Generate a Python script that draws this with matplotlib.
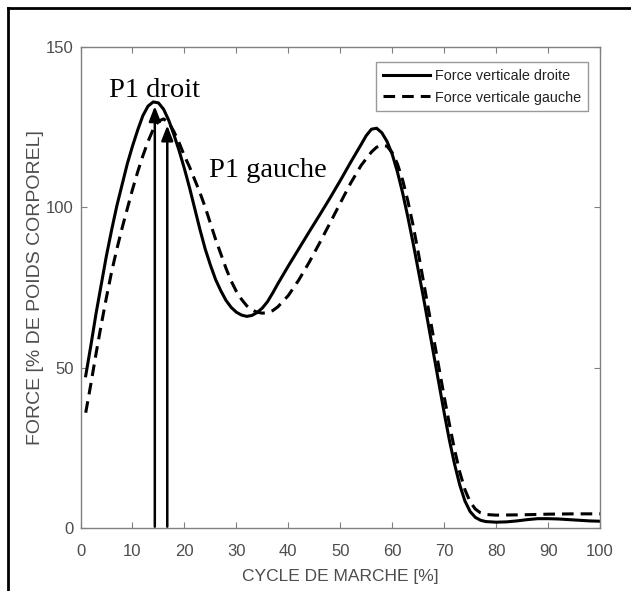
import numpy as np
import matplotlib
matplotlib.use('Agg')
from matplotlib import pyplot as plt
from matplotlib.lines import Line2D

# gait cycle [%] and vertical force [% body weight]
x_droite = [1, 2, 3, 4, 5, 6, 7, 8, 9, 10, 11, 12, 13, 14, 15, 16, 17, 18, 19, 20,
            21, 22, 23, 24, 25, 26, 27, 28, 29, 30, 31, 32, 33, 34, 35, 36, 37, 38, 40, 42,
            44, 46, 48, 50, 52, 54, 55, 56, 57, 58, 59, 60, 61, 62, 63, 64, 65, 66, 67, 68,
            69, 70, 71, 72, 73, 74, 75, 76, 77, 78, 80, 82, 84, 86, 88, 90, 92, 94, 96, 98, 100]
f_droite = [47.5, 57, 67, 76, 85, 93, 100.5, 107, 113.5, 119, 124, 128.5, 131.5, 132.8, 132.5, 130.5, 127, 122.5, 117.5, 112,
            106, 99.5, 93, 87, 82, 77.5, 74, 71, 68.8, 67.3, 66.4, 66, 66.3, 67.2, 68.6, 70.6, 73.3, 76.2, 81.7, 87.0,
            92.3, 97.5, 102.8, 108.3, 114, 119.5, 122.3, 124.3, 124.6, 123.2, 120.5, 116.5, 111, 104.5, 97, 89, 80.5, 72, 63, 54,
            45, 36, 27.5, 20, 13.5, 8.5, 5.2, 3.4, 2.5, 2.1, 1.9, 2.0, 2.3, 2.7, 3.0, 3.0, 2.9, 2.7, 2.5, 2.3, 2.2]

x_gauche = [1, 2, 3, 4, 5, 6, 7, 8, 9, 10, 11, 12, 13, 14, 15, 16, 17, 18, 19, 20,
            21, 22, 23, 24, 25, 26, 27, 28, 29, 30, 31, 32, 33, 34, 35, 36, 37, 38, 40, 42,
            44, 46, 48, 50, 52, 54, 56, 57, 58, 59, 60, 61, 62, 63, 64, 65, 66, 67, 68, 69,
            70, 71, 72, 73, 74, 75, 76, 77, 78, 80, 85, 90, 95, 100]
f_gauche = [36, 45, 54.5, 63.5, 72, 80, 87, 93.5, 99.5, 105.5, 111, 116, 120.5, 124.3, 126.8, 127.5, 126.3, 123.5, 120, 116,
            112.5, 108.5, 104.5, 100, 95, 90, 85.5, 81, 77, 73.8, 71.3, 69.3, 68, 67.3, 67, 67.2, 67.8, 69, 72.5, 77.3,
            82.8, 88.8, 95.0, 101.3, 107.5, 113.0, 117.2, 118.7, 119.3, 119, 117, 113.5, 108.5, 102, 94.5, 86, 77, 68, 59, 50,
            41, 32.5, 24.5, 17.5, 12, 8.2, 6, 4.8, 4.3, 4.1, 4.2, 4.4, 4.5, 4.5]

# P1 peaks marked by arrows
p1_x = [14.3, 16.7]
p1_y = [131.5, 125.5]
p1_labels = ['P1 droit', 'P1 gauche']

x_ticks = list(range(0, 101, 10))
y_ticks = [0, 50, 100, 150]

grey = '#4d4d4d'
plt.rcParams['font.family'] = ['Liberation Sans', 'DejaVu Sans']

fig = plt.figure(figsize=(6.31, 5.91), dpi=100)
ax = fig.add_axes([0.1276, 0.1061, 0.8233, 0.8149])

ax.plot(x_droite, f_droite, color='black', linewidth=2.2, label='Force verticale droite')
ax.plot(x_gauche, f_gauche, color='black', linewidth=2.2, linestyle=(0, (3.8, 2.3)),
        label='Force verticale gauche')

for px, py in zip(p1_x, p1_y):
    ax.annotate('', xy=(px, py), xytext=(px, 0.5),
                arrowprops=dict(arrowstyle='-|>,head_length=0.9,head_width=0.35',
                                color='black', lw=1.8, shrinkA=0, shrinkB=0))

serif = ['Liberation Serif', 'DejaVu Serif']
ax.text(14.3, 136.5, p1_labels[0], ha='center', va='center', fontsize=20.5, family=serif)
ax.text(36.1, 111.3, p1_labels[1], ha='center', va='center', fontsize=20.5, family=serif)

ax.set_xlim(0, 100)
ax.set_ylim(0, 150)
ax.set_xticks(x_ticks)
ax.set_yticks(y_ticks)
ax.tick_params(direction='in', top=True, right=True, length=4, width=0.8,
               colors='#808080', labelcolor=grey, labelsize=12)
ax.tick_params(axis='x', pad=11)
ax.tick_params(axis='y', pad=5)
for s in ax.spines.values():
    s.set_color('#808080')
    s.set_linewidth(1.0)

ax.set_xlabel('CYCLE DE MARCHE [%]', color=grey, fontsize=12.5)
ax.set_ylabel('FORCE [% DE POIDS CORPOREL]', color=grey, fontsize=14)
ax.xaxis.set_label_coords(0.5, -0.101)
ax.xaxis.label.set_va('center')
ax.yaxis.set_label_coords(-0.0857, 0.5)
ax.yaxis.label.set_va('center')

leg = ax.legend(loc='upper right', fontsize=10.4, frameon=True, fancybox=False,
                handlelength=3.3, handletextpad=0.35, borderpad=0.45, borderaxespad=0,
                labelspacing=0.55, bbox_to_anchor=(0.977, 0.968))
leg.get_frame().set_edgecolor('#808080')
leg.get_frame().set_linewidth(1.0)
for t in leg.get_texts():
    t.set_color('#222222')

# outer frame of the picture (top and left edges)
fig.add_artist(Line2D([8 / 631, 1.0], [1 - 8 / 591, 1 - 8 / 591], color='black', linewidth=2,
                      transform=fig.transFigure))
fig.add_artist(Line2D([8 / 631, 8 / 631], [0.0, 1 - 8 / 591], color='black', linewidth=2,
                      transform=fig.transFigure))

plt.savefig('out.png', dpi=100)
